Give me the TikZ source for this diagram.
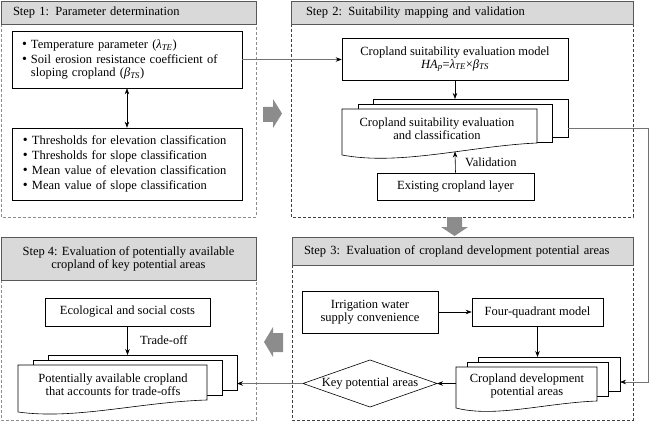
\documentclass[tikz,border=0pt]{standalone}
\usepackage{fontspec}
\setmainfont{Liberation Serif}
\usetikzlibrary{arrows.meta,shapes.geometric}
\newcommand\sub[1]{\textsubscript{\textit{#1}}}
\newcommand\bul{\makebox[9pt][l]{\raisebox{-0.3pt}{\fontsize{14}{13}\selectfont\textbullet}}}
\newcommand\ind{\hspace*{9pt}}
\tikzset{
  base/.style={font=\fontsize{12.5}{13}\selectfont, inner sep=0pt},
  box/.style={base, draw, line width=0.6pt, fill=white},
  hdr/.style={base, draw=black!65, fill=black!15, line width=0.6pt},
  framelt/.style={draw=black!45, dash pattern=on 3pt off 2pt, line width=0.7pt},
  framedk/.style={draw=black!75, dash pattern=on 3pt off 2pt, line width=0.6pt},
  arr/.style={-{Stealth[length=6pt,width=4.5pt]}, line width=0.6pt},
  garr/.style={-{Stealth[length=6pt,width=4.5pt,color=black]}, line width=0.6pt, draw=black!55},
  docl/.style={draw, line width=0.6pt, fill=white},
  blk/.style={fill=black!45, draw=none}
}
\begin{document}
\begin{tikzpicture}[x=1pt,y=-1pt]
\useasboundingbox (0,0) rectangle (650,422);

% ---------- frames ----------
\draw[framelt] (1,24) -- (1,217) -- (256,217) -- (256,24);
\draw[framedk] (291,24) -- (291,217) -- (633,217) -- (633,24);
\draw[framedk] (292,265) -- (292,420) -- (633,420) -- (633,265);
\draw[framelt] (1,280) -- (1,420) -- (256,420) -- (256,280);

% ---------- headers ----------
\node[hdr, minimum width=255, minimum height=23, inner xsep=12pt, text width=231pt, align=left] (h1) at (128.5,12.5) {Step 1: Parameter determination};
\node[hdr, minimum width=342, minimum height=23, inner xsep=15pt, text width=312pt, align=left] (h2) at (462,12.5) {Step 2: Suitability mapping and validation};
\node[hdr, minimum width=341, minimum height=28, inner xsep=12pt, text width=317pt, align=left] (h3) at (462.5,251) {Step 3: Evaluation of cropland development potential areas};
\node[hdr, minimum width=255, minimum height=43, align=center] (h4) at (128.5,258.5) {Step 4: Evaluation of potentially available\\cropland of key potential areas};

% ---------- gray block arrows ----------
\fill[blk] (263,107) -- (273,107) -- (273,99) -- (282,113.5) -- (273,128) -- (273,122) -- (263,122) -- cycle;
\fill[blk] (447,217) -- (462,217) -- (462,227) -- (468,227) -- (454.5,236) -- (441,227) -- (447,227) -- cycle;
\fill[blk] (283,333) -- (273,333) -- (273,327) -- (264,342) -- (273,357) -- (273,352) -- (283,352) -- cycle;

% ---------- step 1 ----------
\node[box, minimum width=230, minimum height=57, inner xsep=10pt, text width=210pt, align=left] (p1) at (127,59.5)
  {\bul Temperature parameter (\textit{λ}\sub{TE})\\[2pt]
   \bul Soil erosion resistance coefficient of\\
   \ind sloping cropland (\textit{β}\sub{TS})};
\node[box, minimum width=230, minimum height=72, inner xsep=11pt, text width=208pt, align=left] (p2) at (127,164)
  {\bul Thresholds for elevation classification\\[2pt]
   \bul Thresholds for slope classification\\[2pt]
   \bul Mean value of elevation classification\\[2pt]
   \bul Mean value of slope classification};
\draw[{Stealth[length=6pt,width=4.5pt]}-{Stealth[length=6pt,width=4.5pt]}, line width=0.6pt] (p1.south) -- (p2.north);

% ---------- step 2 ----------
\node[box, minimum width=226, minimum height=42, align=center] (m) at (455,59)
  {Cropland suitability evaluation model\\
   \textit{HA}\sub{p}=\textit{λ}\sub{TE}×\textit{β}\sub{TS}};
\draw[docl] (373,99) rectangle (568,137);
\draw[docl] (358,104) rectangle (552,142);
\draw[docl] (342,109) -- (537,109) -- (537,143) .. controls (470,146) and (400,166) .. (342,155) -- cycle;
\node[base, align=center] (d2) at (437,129) {Cropland suitability evaluation\\and classification};
\coordinate (s2top) at (455,99);
\coordinate (s2bot) at (455,151.5);
\coordinate (s2r) at (568,128);
\node[box, minimum width=157, minimum height=27] (ex) at (455.5,186.5) {Existing cropland layer};
\draw[arr] (m.south) -- (s2top);
\draw[arr] (ex.north) -- (s2bot);
\node[base, anchor=west] (val) at (465,162) {Validation};
\draw[garr] (p1.east) -- (p1.east -| m.west);

% ---------- step 3 ----------
\node[box, minimum width=136, minimum height=42, align=center] (irr) at (370,312) {Irrigation water\\supply convenience};
\node[box, minimum width=131, minimum height=28] (fq) at (537.5,312) {Four-quadrant model};
\draw[docl] (478,357) rectangle (620,391);
\draw[docl] (467,362) rectangle (608,396);
\draw[docl] (456,367) -- (597,367) -- (597,401) .. controls (545,403) and (495,418) .. (456,408) -- cycle;
\node[base, align=center] (d3) at (527,386) {Cropland development\\potential areas};
\coordinate (s3top) at (537.5,357);
\coordinate (s3r) at (620,382);
\coordinate (f3w) at (456,383.5);
\coordinate (keyE) at (437,383.5);
\coordinate (keyW) at (303,383.5);
\coordinate (keyN) at (370,360);
\coordinate (keyS) at (370,407);
\draw[line width=0.6pt] (keyW) -- (keyN) -- (keyE) -- (keyS) -- cycle;
\node[base] (key) at (370,383.5) {Key potential areas};
\draw[arr] (irr.east) -- (irr.east -| fq.west);
\draw[arr] (fq.south) -- (s3top);
\draw[arr] (f3w) -- (keyE);
\coordinate (rc) at (648,128);
\draw[garr] (s2r) -- (rc) |- (s3r);

% ---------- step 4 ----------
\node[box, minimum width=165, minimum height=28] (eco) at (127.5,312) {Ecological and social costs};
\draw[docl] (48,355) rectangle (237,390);
\draw[docl] (33,360) rectangle (222,395);
\draw[docl] (18,365) -- (207,365) -- (207,400) .. controls (140,402) and (75,420) .. (18,412) -- cycle;
\node[base, align=center] (d4) at (113,385) {Potentially available cropland\\that accounts for trade-offs};
\coordinate (s4top) at (127.5,355);
\coordinate (s4r) at (237,383.5);
\draw[arr] (eco.south) -- (s4top);
\node[base, anchor=west] (to) at (140,340) {Trade-off};
\draw[garr] (keyW) -- (s4r);
\end{tikzpicture}
\end{document}
